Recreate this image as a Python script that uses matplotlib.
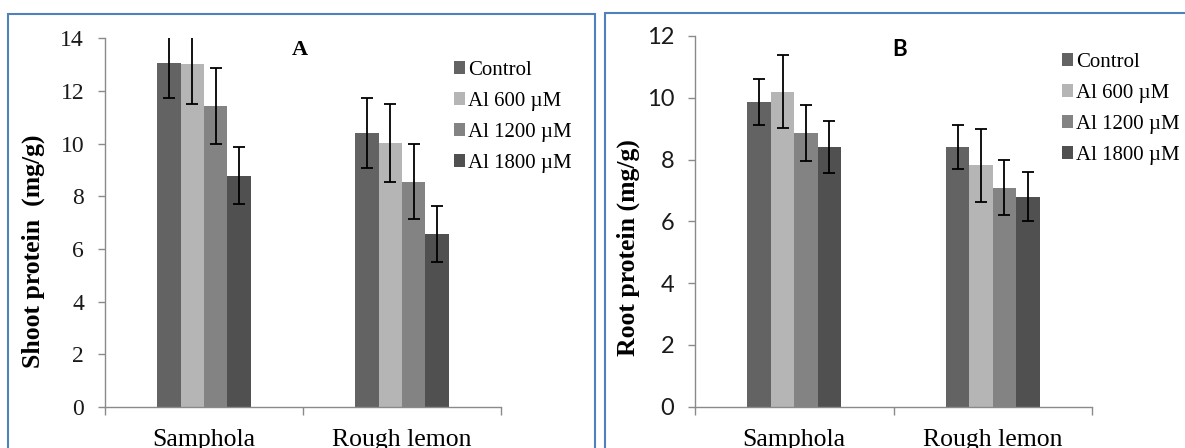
import numpy as np
import matplotlib.pyplot as plt
from matplotlib.patches import Rectangle

cultivars = ['Samphola', 'Rough lemon']
treatments = ['Control', 'Al 600 \u00b5M', 'Al 1200 \u00b5M', 'Al 1800 \u00b5M']
colors = ['#636363', '#b5b5b5', '#838383', '#505050']

# shoot protein (mg/g), panel A
shoot = [[13.08, 10.40], [13.04, 10.02], [11.43, 8.56], [8.79, 6.57]]
shoot_err = [[1.35, 1.33], [1.52, 1.48], [1.43, 1.43], [1.10, 1.08]]

# root protein (mg/g), panel B
root = [[9.86, 8.41], [10.20, 7.81], [8.86, 7.08], [8.41, 6.80]]
root_err = [[0.75, 0.72], [1.19, 1.19], [0.90, 0.89], [0.84, 0.80]]

W, H = 1185, 448
fig = plt.figure(figsize=(W / 100, H / 100), dpi=100)

serif = 'Liberation Serif'
sans = 'Lato'
spine_c = '#8a8a8a'


def panel(rect, vals, errs, ymax, tick_font, tick_size, ylabel, ylab_xy, letter, letter_xy,
          letter_font, leg_xy):
    ax = fig.add_axes(rect)
    x = np.arange(len(cultivars))
    w = 0.118
    bars = []
    for i, (v, e) in enumerate(zip(vals, errs)):
        b = ax.bar(x + (i - 1.5) * w, v, width=w, color=colors[i], yerr=e,
                   error_kw=dict(ecolor='black', elinewidth=1.3, capsize=4.6, capthick=1.3),
                   label=treatments[i])
        bars.append(b)
    ax.set_xlim(-0.5, 1.5)
    ax.set_ylim(0, ymax)
    ax.set_yticks(np.arange(0, ymax + 1, 2))
    for s in ['top', 'right']:
        ax.spines[s].set_visible(False)
    for s in ['left', 'bottom']:
        ax.spines[s].set_color(spine_c)
        ax.spines[s].set_linewidth(1)
    ax.set_xticks(x)
    ax.set_xticklabels(cultivars, fontfamily=serif, fontsize=18.5)
    ax.set_xticks([-0.5, 0.5, 1.5], minor=True)
    ax.tick_params(axis='x', which='major', length=0, pad=16)
    ax.tick_params(axis='x', which='minor', length=6, color=spine_c, width=1)
    ax.tick_params(axis='y', length=5, color=spine_c, width=1, pad=10)
    for t in ax.get_yticklabels():
        t.set_fontfamily(tick_font)
        t.set_fontsize(tick_size)
        t.set_color('#1a1a1a')
    fig.text(ylab_xy[0] / W, 1 - ylab_xy[1] / H, ylabel, rotation=90, ha='center', va='center',
             fontfamily=serif, fontweight='bold', fontsize=18.5)
    fig.text(letter_xy[0] / W, 1 - letter_xy[1] / H, letter, ha='center', va='center',
             fontfamily=letter_font, fontweight='bold', fontsize=16)
    leg = fig.legend(handles=bars, labels=treatments, loc='upper left',
                     bbox_to_anchor=(leg_xy[0] / W, 1 - leg_xy[1] / H), frameon=False,
                     prop=dict(family=serif, size=15), handlelength=0.55, handleheight=0.55,
                     handletextpad=0.12, labelspacing=0.57, borderpad=0, borderaxespad=0)
    for h in leg.legend_handles:
        h.set_edgecolor('none')
    return ax


panel([105 / W, 41 / H, 396 / W, 368.7 / H], shoot, shoot_err, 14, serif, 17,
      'Shoot protein  (mg/g)', (33, 251), 'A', (300, 50), serif, (454, 61))
panel([695 / W, 41.3 / H, 397 / W, 370.7 / H], root, root_err, 12, sans, 17,
      'Root protein (mg/g)', (628, 248), 'B', (900, 50), sans, (1062, 53))

# chart borders
blue = '#4f81bd'
fig.patches.append(Rectangle((8 / W, -0.2), (595 - 8) / W, 1.2 - 14 / H, transform=fig.transFigure,
                             fill=False, edgecolor=blue, linewidth=1.5))
fig.patches.append(Rectangle((605 / W, -0.2), 0.5, 1.2 - 13 / H, transform=fig.transFigure,
                             fill=False, edgecolor=blue, linewidth=1.5))

fig.savefig('out.png', dpi=100)
